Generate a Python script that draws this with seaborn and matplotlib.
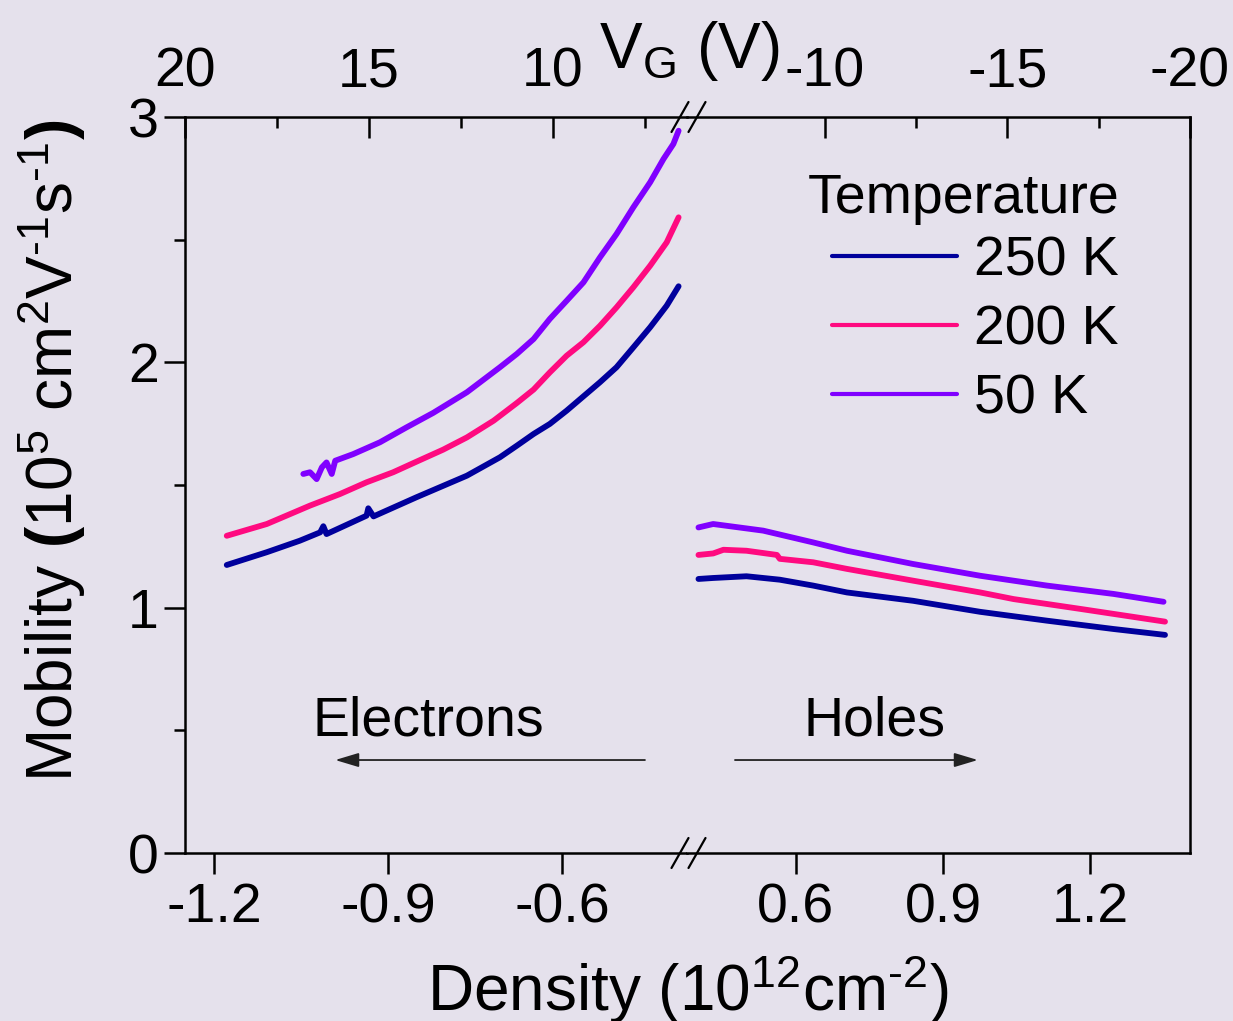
import numpy as np
import pandas as pd
import matplotlib
matplotlib.use("Agg")
import matplotlib.pyplot as plt
import seaborn as sns
from matplotlib.lines import Line2D

# ---------------- data ----------------
temperatures = ["250 K", "200 K", "50 K"]
colors = ["#00009C", "#FF0A80", "#8000FF"]

# electrons (negative density), 10^12 cm^-2 ; mobility 10^5 cm^2/Vs
e_n_250 = [-1.178, -1.109, -1.052, -1.017, -1.0115, -1.006, -0.937, -0.934, -0.925, -0.851, -0.764,
           -0.707, -0.678, -0.649, -0.621, -0.592, -0.5345, -0.506, -0.477, -0.448, -0.4195, -0.399]
e_mu_250 = [1.174, 1.226, 1.273, 1.307, 1.332, 1.300, 1.375, 1.405, 1.372, 1.450, 1.538,
            1.613, 1.660, 1.708, 1.749, 1.803, 1.919, 1.980, 2.061, 2.143, 2.231, 2.310]

e_n_200 = [-1.178, -1.109, -1.0345, -0.983, -0.937, -0.891, -0.851, -0.805, -0.764, -0.718, -0.678,
           -0.649, -0.621, -0.592, -0.563, -0.5345, -0.506, -0.477, -0.448, -0.4195, -0.399]
e_mu_200 = [1.293, 1.341, 1.416, 1.463, 1.511, 1.552, 1.595, 1.644, 1.694, 1.762, 1.834,
            1.889, 1.959, 2.027, 2.082, 2.149, 2.224, 2.306, 2.394, 2.489, 2.591]

e_n_50 = [-1.046, -1.0345, -1.023, -1.014, -1.006, -0.997, -0.991, -0.960, -0.914, -0.868, -0.822,
          -0.764, -0.707, -0.678, -0.649, -0.621, -0.592, -0.563, -0.5345, -0.506, -0.477, -0.448,
          -0.425, -0.408, -0.399]
e_mu_50 = [1.545, 1.552, 1.524, 1.572, 1.592, 1.545, 1.599, 1.626, 1.674, 1.735, 1.794,
           1.878, 1.980, 2.034, 2.095, 2.177, 2.251, 2.326, 2.428, 2.523, 2.632, 2.734,
           2.829, 2.890, 2.944]

# holes (positive density)
h_n_250 = [0.401, 0.431, 0.499, 0.567, 0.635, 0.704, 0.839, 0.976, 1.112, 1.248, 1.353]
h_mu_250 = [1.117, 1.121, 1.128, 1.114, 1.090, 1.062, 1.028, 0.983, 0.947, 0.913, 0.889]

h_n_200 = [0.401, 0.431, 0.452, 0.499, 0.561, 0.567, 0.635, 0.704, 0.839, 0.976, 1.044, 1.180, 1.353]
h_mu_200 = [1.215, 1.221, 1.236, 1.232, 1.215, 1.199, 1.185, 1.158, 1.110, 1.062, 1.035, 0.995, 0.943]

h_n_50 = [0.401, 0.431, 0.533, 0.635, 0.704, 0.839, 0.976, 1.112, 1.248, 1.350]
h_mu_50 = [1.327, 1.341, 1.314, 1.266, 1.232, 1.178, 1.130, 1.090, 1.056, 1.024]

x_ticks_e = [-1.2, -0.9, -0.6]
x_ticks_h = [0.6, 0.9, 1.2]
y_ticks = [0, 1, 2, 3]
vg_ticks_e = [20, 15, 10]
vg_ticks_h = [-10, -15, -20]


def long_df(ns, mus):
    frames = []
    for t, n, m in zip(temperatures, ns, mus):
        frames.append(pd.DataFrame({"density": n, "mobility": m, "Temperature": t}))
    return pd.concat(frames, ignore_index=True)


df_e = long_df([e_n_250, e_n_200, e_n_50], [e_mu_250, e_mu_200, e_mu_50])
df_h = long_df([h_n_250, h_n_200, h_n_50], [h_mu_250, h_mu_200, h_mu_50])

# ---------------- style ----------------
BG = "#E5E1EC"
sns.set_theme(style="ticks", rc={"axes.facecolor": BG, "figure.facecolor": BG})
plt.rcParams["font.family"] = ["Liberation Sans", "DejaVu Sans"]
plt.rcParams["mathtext.fontset"] = "custom"
plt.rcParams["mathtext.rm"] = "Liberation Sans"
plt.rcParams["mathtext.it"] = "Liberation Sans:italic"
plt.rcParams["mathtext.bf"] = "Liberation Sans:bold"
plt.rcParams["mathtext.default"] = "regular"
plt.rcParams["axes.unicode_minus"] = False
for k in ("text.color", "axes.labelcolor", "xtick.color", "ytick.color", "axes.edgecolor"):
    plt.rcParams[k] = "black"

W, H = 1233, 1021
L, M, R, T, B = 185, 687, 1190, 117, 853
fig = plt.figure(figsize=(W / 100, H / 100), dpi=100)
fig.patch.set_facecolor(BG)

axL = fig.add_axes([L / W, 1 - B / H, (M - L) / W, (B - T) / H])
axR = fig.add_axes([M / W, 1 - B / H, (R - M) / W, (B - T) / H])

pal = dict(zip(temperatures, colors))
sns.lineplot(data=df_e, x="density", y="mobility", hue="Temperature", hue_order=temperatures,
             palette=pal, sort=False, estimator=None, lw=4.2, ax=axL, legend=False)
sns.lineplot(data=df_h, x="density", y="mobility", hue="Temperature", hue_order=temperatures,
             palette=pal, sort=False, estimator=None, lw=4.2, ax=axR, legend=False)
for ax in (axL, axR):
    for ln in ax.get_lines():
        ln.set_solid_joinstyle("round")
        ln.set_solid_capstyle("round")

FS = 40
SPW = 1.8
for ax in (axL, axR):
    ax.set_facecolor(BG)
    ax.set_ylim(0, 3)
    ax.set_xlabel("")
    ax.set_ylabel("")
    ax.grid(False)
    for s in ax.spines.values():
        s.set_linewidth(SPW)
        s.set_color("black")
    ax.spines["top"].set_visible(False)
    ax.tick_params(axis="x", direction="out", length=15, width=SPW, labelsize=FS, pad=6,
                   top=False, colors="black")

axL.set_xlim(-1.25, -0.3845)
axR.set_xlim(0.3776, 1.404)
axL.set_xticks(x_ticks_e)
axL.set_xticklabels([f"{v:.1f}" for v in x_ticks_e])
axR.set_xticks(x_ticks_h)
axR.set_xticklabels([f"{v:.1f}" for v in x_ticks_h])

axL.spines["right"].set_visible(False)
axR.spines["left"].set_visible(False)
axL.set_yticks(y_ticks)
axL.set_yticks([0.5, 1.5, 2.5], minor=True)
axL.tick_params(axis="y", which="major", direction="out", length=15, width=SPW, labelsize=FS, pad=4,
                colors="black")
axL.tick_params(axis="y", which="minor", direction="out", length=8, width=SPW, colors="black")
axR.tick_params(axis="y", which="both", left=False, right=False, labelleft=False)

# top gate-voltage axes
for ax, lim, ticks, minors in ((axL, (20, 6.36), vg_ticks_e, [17.5, 12.5, 7.5]),
                               (axR, (-6.23, -19.97), vg_ticks_h, [-12.5, -17.5])):
    tw = ax.twiny()
    tw.set_xlim(*lim)
    tw.set_xticks(ticks)
    tw.set_xticklabels([str(v) for v in ticks])
    tw.set_xticks(minors, minor=True)
    for k, s in tw.spines.items():
        s.set_visible(k == "top")
        s.set_linewidth(SPW)
        s.set_color("black")
    tw.tick_params(axis="x", which="major", direction="in", length=15, width=SPW, labelsize=FS, pad=13,
                   colors="black")
    tw.tick_params(axis="x", which="minor", direction="in", length=8, width=SPW, colors="black")
    tw.grid(False)

# break marks
def px(x, y):
    return x / W, 1 - y / H

for yc in (T, B):
    for xc in (680, 697):
        x0, y0 = px(xc - 8.5, yc + 15)
        x1, y1 = px(xc + 8.5, yc - 15)
        fig.add_artist(Line2D([x0, x1], [y0, y1], color="black", lw=1.6))

# labels
axL.set_ylabel(r"Mobility $\mathbf{(}$10$^{5}$ cm$^{2}$V$^{\text{-1}}$s$^{\text{-1}}$$\mathbf{)}$",
               fontsize=46)
axL.yaxis.set_label_coords((88 - L) / (M - L), (B - 451) / (B - T))
fig.text(*px(687.5, 1011), r"Density (10$^{12}$cm$^{\text{-2}}$)", fontsize=46, ha="center",
         va="baseline")
fig.text(*px(689, 68), r"V$_{\mathrm{G}}$ (V)", fontsize=46, ha="center", va="baseline")

# Electrons / Holes annotations
axL.text(-0.831, 0.477, "Electrons", fontsize=FS, ha="center", va="baseline")
axR.text(0.761, 0.477, "Holes", fontsize=FS, ha="center", va="baseline")
arrow = dict(arrowstyle="-|>,head_length=0.6,head_width=0.18", lw=1.3, color="#222222",
             mutation_scale=24, shrinkA=0, shrinkB=0)
axL.annotate("", xy=(-0.991, 0.379), xytext=(-0.457, 0.379), arrowprops=arrow)
axR.annotate("", xy=(0.971, 0.379), xytext=(0.4755, 0.379), arrowprops=arrow)

# legend (title drawn as separate text, left aligned as in the original)
fig.text(*px(808, 213), "Temperature", fontsize=FS, ha="left", va="baseline")
handles = [Line2D([], [], color=c, lw=3) for c in colors]
leg = axR.legend(handles, temperatures, fontsize=FS,
                 frameon=False, loc="upper left", bbox_to_anchor=px(832, 235),
                 bbox_transform=fig.transFigure, borderpad=0, borderaxespad=0,
                 handlelength=2.25, handletextpad=0.3, labelspacing=0.31)

fig.savefig("out.png", dpi=100, facecolor=BG)
